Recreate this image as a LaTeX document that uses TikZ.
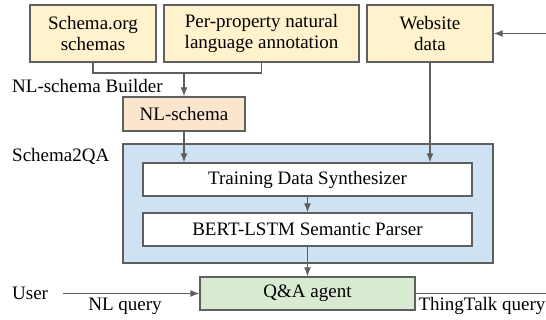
\documentclass[tikz,border=0pt]{standalone}
\usepackage{fontspec}
\setmainfont{Liberation Serif}
\usetikzlibrary{arrows.meta}
\definecolor{edgegray}{HTML}{5F5F5F}
\definecolor{fillyellow}{HTML}{FFF2CC}
\definecolor{fillpeach}{HTML}{FCE5CD}
\definecolor{fillblue}{HTML}{CFE2F3}
\definecolor{fillgreen}{HTML}{D9EAD3}
\begin{document}
\begin{tikzpicture}[>={Latex[length=9pt,width=7pt]},x=1pt,y=-1pt,
		every node/.style={font=\fontsize{19}{21.5}\selectfont},
		box/.style={draw=edgegray,line width=1.3pt,align=center,inner sep=0pt},
		srcbox/.style={box,fill=fillyellow,minimum height=57pt},
		stepbox/.style={box,fill=white,minimum width=329pt,minimum height=33pt},
		lbl/.style={inner sep=0pt},
		link/.style={draw=edgegray,line width=1.3pt}]
			\useasboundingbox (0,0) rectangle (546,320);
			%sources
			\node (schemaorg) at (93,33.5)[srcbox,minimum width=126pt]{Schema.org\\schemas};
			\node (annot) at (261.5,33.5)[srcbox,minimum width=195pt]{Per-property natural\\language annotation};
			\node (website) at (430,33.5)[srcbox,minimum width=126pt]{Website\\data};
			\node (nlschema) at (184,114)[box,fill=fillpeach,minimum width=122pt,minimum height=34pt]{NL-schema};
			\node (schemaqa) at (308,203.5)[box,fill=fillblue,minimum width=370pt,minimum height=119pt]{};
			\node (synth) at (307.5,179.5)[stepbox]{Training Data Synthesizer};
			\node (parser) at (307.5,229.5)[stepbox]{BERT-LSTM Semantic Parser};
			\node (agent) at (307.5,293.5)[box,fill=fillgreen,minimum width=215pt,minimum height=33pt]{Q\&A agent};
			\node (builder) at (12,86)[lbl,anchor=west]{NL-schema Builder};
			\node (s2qa) at (12,156)[lbl,anchor=west]{Schema2QA};
			\node (user) at (12,293)[lbl,anchor=west]{User};
			\node (nlquery) at (125,306)[lbl]{NL query};
			\node (ttquery) at (482,306)[lbl]{ThingTalk query};
			\coordinate (join) at (184,73);\coordinate (feed) at (546,33.5);
			\coordinate (userout) at (63,293.5);\coordinate (agentout) at (546,293.5);
			\draw[link] (schemaorg.south)|-(join)-|(annot.south);
			\draw[link,->] (join)--(nlschema.north);
			\draw[link,->] (feed)--(website.east);
			\draw[link,->] (nlschema.south)--(nlschema.south|-synth.north);
			\draw[link,->] (website.south)--(website.south|-synth.north);
			\draw[link,->] (synth)--(parser);
			\draw[link,->] (parser)--(agent);
			\draw[link,->] (userout)--(agent.west);
			\draw[link] (agent.east)--(agentout);
		\end{tikzpicture}
\end{document}
